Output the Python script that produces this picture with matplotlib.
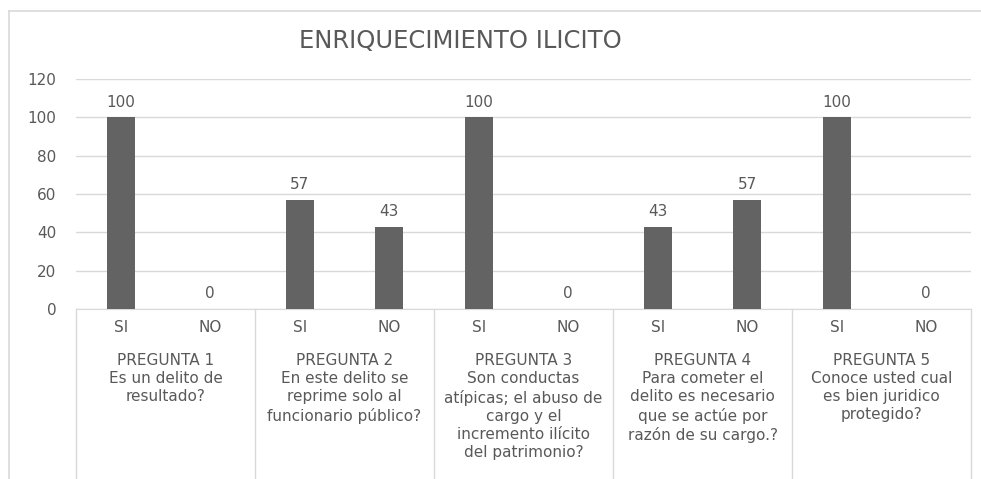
import matplotlib.pyplot as plt
from matplotlib.lines import Line2D
import matplotlib.transforms as mtransforms

plt.rcParams['font.family'] = ['DejaVu Sans']

# data
answers = ["SI", "NO"] * 5
values = [100, 0, 57, 43, 100, 0, 43, 57, 100, 0]
questions = [
    "PREGUNTA 1\nEs un delito de\nresultado?",
    "PREGUNTA 2\nEn este delito se\nreprime solo al\nfuncionario público?",
    "PREGUNTA 3\nSon conductas\natípicas; el abuso de\ncargo y el\nincremento ilícito\ndel patrimonio?",
    "PREGUNTA 4\nPara cometer el\ndelito es necesario\nque se actúe por\nrazón de su cargo.?",
    "PREGUNTA 5\nConoce usted cual\nes bien juridico\nprotegido?",
]
yticks = [0, 20, 40, 60, 80, 100, 120]

txt = '#595959'
fs = 11
W, H = 981, 479
fig = plt.figure(figsize=(W / 100, H / 100), dpi=100)
ax = fig.add_axes([76 / W, 1 - 309 / H, (971 - 76) / W, (309 - 79) / H])

x = list(range(len(values)))
ax.bar(x, values, width=0.31, color='#636363', zorder=3)
for xi, v in zip(x, values):
    ax.text(xi, v + 4, str(v), ha='center', va='bottom', fontsize=fs, color=txt)

ax.set_xlim(-0.5, len(values) - 0.5)
ax.set_ylim(0, 120)
ax.set_yticks(yticks)
ax.tick_params(axis='y', length=0, labelsize=fs, labelcolor=txt, pad=14)
ax.set_xticks([])
ax.grid(axis='y', color='#d9d9d9', linewidth=1, zorder=0)
for s in ['top', 'right', 'left']:
    ax.spines[s].set_visible(False)
ax.spines['bottom'].set_color('#d9d9d9')

# multi-level category axis
trans = mtransforms.blended_transform_factory(ax.transData, fig.transFigure)
y_sub = 1 - 327 / H
y_grp = 1 - 353 / H
for xi, a in zip(x, answers):
    ax.text(xi, y_sub, a, transform=trans, ha='center', va='center', fontsize=fs, color=txt)
for i, q in enumerate(questions):
    ax.text(2 * i + 0.5, y_grp, q, transform=trans, ha='center', va='top', fontsize=fs,
            color=txt, linespacing=1.26)
for i in range(len(questions) + 1):
    xs = 2 * i - 0.5
    fig.add_artist(Line2D([xs, xs], [1 - 309 / H, 0], transform=trans, color='#d9d9d9', lw=1))

# title
fig.text(460 / W, 1 - 41 / H, "ENRIQUECIMIENTO ILICITO", ha='center', va='center',
         fontsize=17.5, color=txt)

# chart border
fig.add_artist(Line2D([9 / W, 9 / W], [1 - 11 / H, 0], color='#d9d9d9', lw=1.2))
fig.add_artist(Line2D([9 / W, 1], [1 - 11 / H, 1 - 11 / H], color='#d9d9d9', lw=1.2))

fig.savefig('out.png', dpi=100)
